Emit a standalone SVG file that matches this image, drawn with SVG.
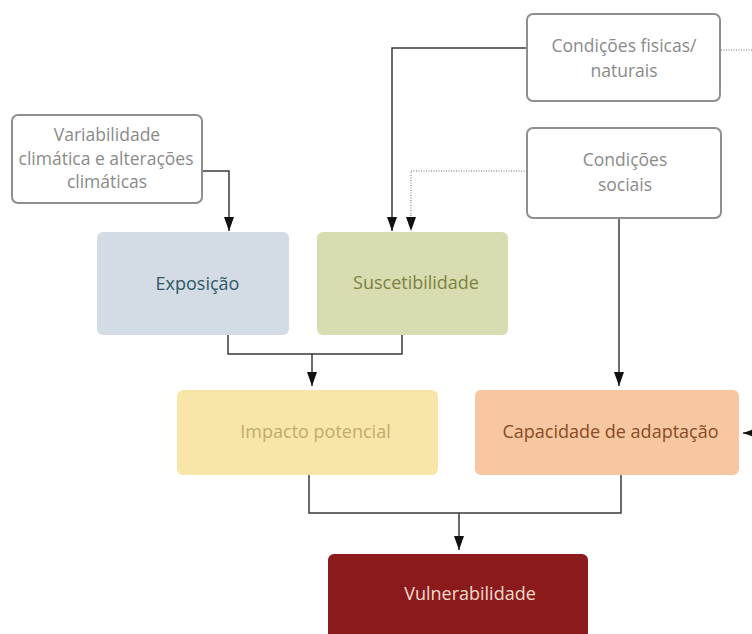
<svg xmlns="http://www.w3.org/2000/svg" width="752" height="634" viewBox="0 0 752 634">
<style>
.gbox{fill:#ffffff;stroke:#8e8e8e;stroke-width:2}
.gtxt{font-family:"Open Sans","Noto Sans",sans-serif;font-size:17.5px;fill:#8a8a8a;text-anchor:middle}
.ftxt{font-family:"Open Sans","Noto Sans",sans-serif;font-size:18px;text-anchor:middle}
.ln{fill:none;stroke:#3a3a3a;stroke-width:1.5}
.dot{fill:none;stroke:#a0a0a0;stroke-width:1.5;stroke-dasharray:1 1.5}
</style>
<defs>
<marker id="ah" markerUnits="userSpaceOnUse" markerWidth="14" markerHeight="10" refX="14" refY="5" viewBox="0 0 14 10" orient="auto">
<path d="M0,0 L14,5 L0,10 Z" fill="#111"/>
</marker>
</defs>
<rect width="752" height="634" fill="#ffffff"/>

<g id="connectors">
<path class="ln" d="M202,171 H229 V231" marker-end="url(#ah)"/>
<path class="ln" d="M527,48 H392 V231" marker-end="url(#ah)"/>
<path class="dot" d="M527,171 H411 V220"/>
<path class="ln" d="M411,219 V231" stroke-opacity="0" marker-end="url(#ah)"/>
<path class="dot" d="M721,50 H752"/>
<path class="ln" d="M619,218 V386" marker-end="url(#ah)"/>
<path class="ln" d="M228,335 V354 H402 V335"/>
<path class="ln" d="M312,354 V386" marker-end="url(#ah)"/>
<path class="ln" d="M309,475 V513 H621 V475"/>
<path class="ln" d="M459,513 V550" marker-end="url(#ah)"/>
<path class="ln" d="M752,433 H743" marker-end="url(#ah)"/>
</g>

<g id="variabilidade">
<rect class="gbox" x="12" y="115" width="190" height="88" rx="6"/>
<text class="gtxt" x="107" y="141">Variabilidade</text>
<text class="gtxt" x="106" y="165">climática e alterações</text>
<text class="gtxt" x="107" y="188">climáticas</text>
</g>

<g id="fisicas">
<rect class="gbox" x="527" y="14" width="193" height="87" rx="6"/>
<text class="gtxt" x="624" y="52">Condições fisicas/</text>
<text class="gtxt" x="624" y="77">naturais</text>
</g>

<g id="sociais">
<rect class="gbox" x="527" y="128" width="194" height="90" rx="6"/>
<text class="gtxt" x="625" y="166">Condições</text>
<text class="gtxt" x="625" y="191">sociais</text>
</g>

<g id="exposicao">
<rect x="97" y="232" width="192" height="103" rx="6" fill="#d3dce5"/>
<text class="ftxt" x="197.5" y="290" fill="#2f5863">Exposição</text>
</g>

<g id="suscetibilidade">
<rect x="317" y="232" width="191" height="103" rx="6" fill="#d8dcb0"/>
<text class="ftxt" x="416" y="289" fill="#7b8242">Suscetibilidade</text>
</g>

<g id="impacto">
<rect x="177" y="390" width="261" height="85" rx="6" fill="#f8e6a8"/>
<text class="ftxt" x="315.5" y="438" fill="#c0aa6c">Impacto potencial</text>
</g>

<g id="capacidade">
<rect x="475" y="390" width="264" height="85" rx="6" fill="#f6c7a0"/>
<text class="ftxt" x="610.5" y="438" fill="#8a4a24">Capacidade de adaptação</text>
</g>

<g id="vulnerabilidade">
<rect x="328" y="554" width="260" height="90" rx="6" fill="#8b1a1d"/>
<text class="ftxt" x="470" y="600" fill="#f4dccb">Vulnerabilidade</text>
</g>
</svg>
